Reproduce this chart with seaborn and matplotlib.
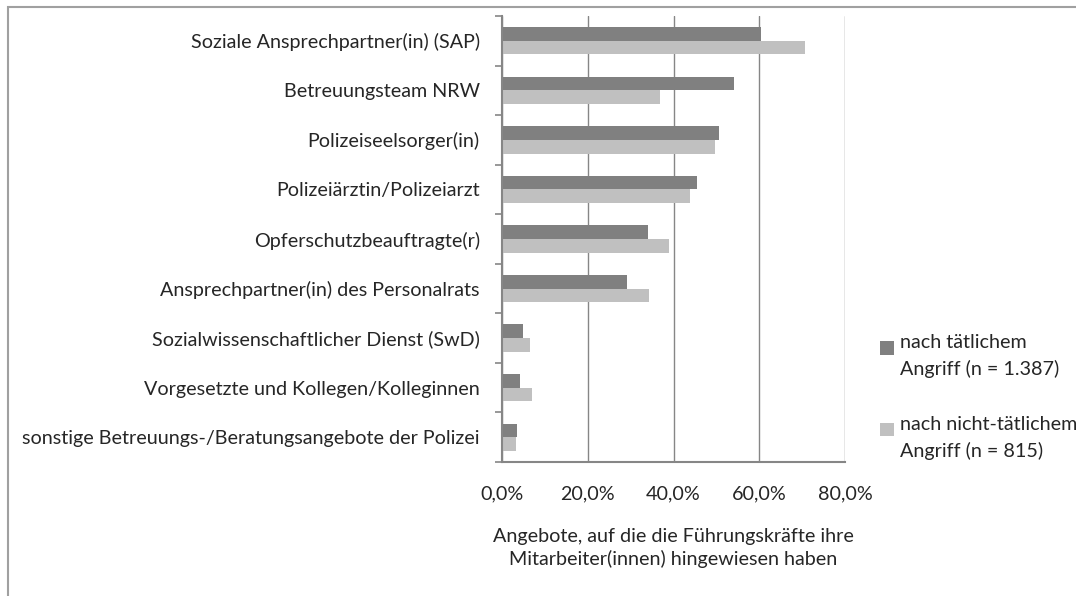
import pandas as pd
import matplotlib
matplotlib.use('Agg')
import matplotlib.pyplot as plt
import seaborn as sns
from matplotlib.patches import Rectangle
from matplotlib.legend_handler import HandlerPatch
from matplotlib.ticker import FuncFormatter, FixedLocator

categories = [
    'Soziale Ansprechpartner(in) (SAP)',
    'Betreuungsteam NRW',
    'Polizeiseelsorger(in)',
    'Polizeiärztin/Polizeiarzt',
    'Opferschutzbeauftragte(r)',
    'Ansprechpartner(in) des Personalrats',
    'Sozialwissenschaftlicher Dienst (SwD)',
    'Vorgesetzte und Kollegen/Kolleginnen',
    'sonstige Betreuungs-/Beratungsangebote der Polizei',
]
series_names = ['nach tätlichem\nAngriff (n = 1.387)',
                'nach nicht-tätlichem\nAngriff (n = 815)']
taetlich = [60.3, 54.0, 50.5, 45.5, 34.1, 29.1, 4.8, 4.2, 3.6]
nicht_taetlich = [70.7, 36.9, 49.6, 43.9, 38.9, 34.4, 6.5, 7.1, 3.3]
x_ticks = [0, 20, 40, 60, 80]
x_label = 'Angebote, auf die die Führungskräfte ihre\nMitarbeiter(innen) hingewiesen haben'

df = pd.DataFrame({
    'Angebot': categories * 2,
    'Serie': [series_names[0]] * len(categories) + [series_names[1]] * len(categories),
    'Wert': taetlich + nicht_taetlich,
})

sns.set_style('white')
plt.rcParams['font.family'] = ['Lato', 'DejaVu Sans']
fs = 14.2

fig = plt.figure(figsize=(10.76, 5.96), dpi=100)
ax = fig.add_axes([502 / 1076, 1 - 462 / 596, 343 / 1076, 446 / 596])

sns.barplot(data=df, y='Angebot', x='Wert', hue='Serie', orient='h',
            palette=['#808080', '#c0c0c0'], width=0.55, linewidth=0,
            saturation=1, ax=ax)

grid_c = '#868686'
ax.set_xlim(0, 80)
ax.set_ylim(len(categories) - 0.5, -0.5)
ax.set_xticks(x_ticks)
ax.xaxis.set_major_formatter(FuncFormatter(lambda v, p: f'{v:.1f}%'.replace('.', ',')))
ax.grid(axis='x', color=grid_c, linewidth=1)
ax.set_axisbelow(True)
for s in ['top', 'right']:
    ax.spines[s].set_visible(False)
for s in ['left', 'bottom']:
    ax.spines[s].set_color(grid_c)
    ax.spines[s].set_linewidth(1.5)

ax.tick_params(axis='x', length=5, color=grid_c, width=1, pad=12, labelsize=fs)
ax.tick_params(axis='y', which='major', length=0, pad=16, labelsize=fs)
ax.yaxis.set_minor_locator(FixedLocator([i - 0.5 for i in range(len(categories) + 1)]))
ax.tick_params(axis='y', which='minor', length=5, color=grid_c, width=1.2, left=True)

ax.set_ylabel('')
ax.set_xlabel(x_label, linespacing=1.37, labelpad=18, fontsize=fs)


def top_square(legend, orig_handle, xdescent, ydescent, width, height, fontsize):
    return Rectangle((-xdescent, -ydescent + height - width), width, width)


handles, labels = ax.get_legend_handles_labels()
leg = ax.legend(handles, labels, loc='center left', bbox_to_anchor=(880 / 1076, 1 - 397 / 596),
                bbox_transform=fig.transFigure, frameon=False, borderpad=0, borderaxespad=0,
                handlelength=0.7, handleheight=2.1, handletextpad=0.3, labelspacing=1.9,
                fontsize=fs, handler_map={h: HandlerPatch(patch_func=top_square) for h in handles})
for t in leg.get_texts():
    t.set_linespacing(1.58)

fig.patches.append(Rectangle((7.5 / 1076, -0.1), 1.2, (596 - 6.5) / 596 + 0.1,
                             transform=fig.transFigure, fill=False,
                             edgecolor='#a0a0a0', linewidth=1.5))

fig.savefig('out.png', dpi=100)
